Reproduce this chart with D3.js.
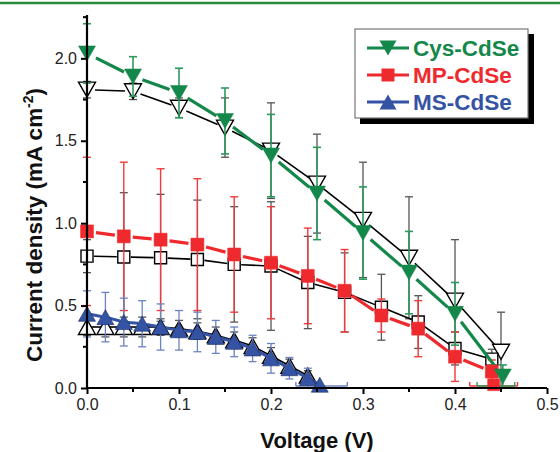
<!DOCTYPE html>
<html><head><meta charset="utf-8">
<script src="https://cdn.jsdelivr.net/npm/d3@7"></script>
<style>body{margin:0;background:#fff}svg{display:block}</style>
</head><body>
<svg id="c" width="560" height="452"></svg>
<script>
// ---- data ----
const cysV = [0, 0.05, 0.1, 0.15, 0.2, 0.25, 0.3, 0.35, 0.4, 0.452];
const cysJ = [2.03, 1.89, 1.79, 1.62, 1.41, 1.18, 0.94, 0.70, 0.45, 0.07];
const cysErr = [0.18, 0.12, 0.15, 0.2, 0.25, 0.28, 0.28, 0.25, 0.19, 0.07];

const cysRefV = [0, 0.05, 0.1, 0.15, 0.2, 0.25, 0.3, 0.35, 0.4, 0.45];
const cysRefJ = [1.81, 1.80, 1.70, 1.58, 1.44, 1.24, 1.02, 0.79, 0.53, 0.22];
const cysRefErr = [0.05, 0.05, 0.06, 0.18, 0.29, 0.30, 0.35, 0.37, 0.37, 0.24];

const mpV = [0, 0.04, 0.08, 0.12, 0.16, 0.2, 0.24, 0.28, 0.32, 0.36, 0.4, 0.44];
const mpJ = [0.95, 0.92, 0.90, 0.87, 0.81, 0.76, 0.68, 0.59, 0.44, 0.36, 0.19, 0.10];
const mpErr = [0.45, 0.45, 0.43, 0.40, 0.35, 0.34, 0.29, 0.25, 0.10, 0.17, 0.15, 0.07];

const mpRefV = [0, 0.04, 0.08, 0.12, 0.16, 0.2, 0.24, 0.28, 0.32, 0.36, 0.4, 0.44];
const mpRefJ = [0.80, 0.795, 0.79, 0.78, 0.75, 0.74, 0.64, 0.58, 0.49, 0.40, 0.24, 0.175];
const mpRefErr = [0.1, 0.39, 0.385, 0.36, 0.35, 0.39, 0.28, 0.24, 0.2, 0.16, 0.1, 0.06];

const msV = [0, 0.02, 0.04, 0.06, 0.08, 0.1, 0.12, 0.14, 0.16, 0.18, 0.2, 0.22, 0.24, 0.253];
const msJ = [0.45, 0.43, 0.40, 0.39, 0.37, 0.35, 0.34, 0.31, 0.28, 0.24, 0.18, 0.12, 0.06, 0.02];
const msErr = [0.14, 0.15, 0.145, 0.14, 0.14, 0.12, 0.12, 0.1, 0.09, 0.08, 0.09, 0.065, 0.06, 0];

const msRefV = [0, 0.02, 0.04, 0.06, 0.08, 0.1, 0.12, 0.14, 0.16, 0.18, 0.2, 0.22, 0.24];
const msRefJ = [0.37, 0.37, 0.37, 0.37, 0.37, 0.36, 0.345, 0.32, 0.29, 0.255, 0.195, 0.135, 0.075];
const msRefErr = [0.05, 0.06, 0.06, 0.06, 0.05, 0.05, 0.05, 0.05, 0.05, 0.05, 0.05, 0.04, 0.03];

// open-circuit voltage (J = 0) with horizontal error
const vocSeries = ["MS-CdSe", "MP-CdSe", "Cys-CdSe"];
const vocV = [0.255, 0.442, 0.4445];
const vocErr = [0.028, 0.026, 0.0205];

const xTicks = [0, 0.1, 0.2, 0.3, 0.4, 0.5];
const yTicks = [0, 0.5, 1.0, 1.5, 2.0];
const legendLabels = ["Cys-CdSe", "MP-CdSe", "MS-CdSe"];

// ---- drawing ----
const svg = d3.select("#c");
const x = d3.scaleLinear().domain([0, 0.5]).range([87, 547]);
const y = d3.scaleLinear().domain([0, 2.263]).range([388, 15]);

const C = {green: "#14874a", red: "#ee2a2e", blue: "#3453a4",
           gErr: "#2b9a5c", rErr: "#f23a3a", bErr: "#6b83c2", kErr: "#555"};

// top decorative rule
svg.append("line").attr("x1", 0).attr("x2", 560).attr("y1", 3).attr("y2", 3)
  .attr("stroke", "#2a8a3c").attr("stroke-width", 2.5);

function tri(w, h, down) {
  return down ? `M${-w/2},${-h/2}L${w/2},${-h/2}L0,${h/2}Z`
              : `M${-w/2},${h/2}L${w/2},${h/2}L0,${-h/2}Z`;
}
function sq(s) { return `M${-s/2},${-s/2}h${s}v${s}h${-s}Z`; }

const g = svg.append("g");

function errBars(V, J, E, color, sw) {
  const cap = 4;
  V.forEach((v, i) => {
    if (!E[i]) return;
    const px = x(v), y1 = y(J[i] + E[i]), y2 = y(Math.max(J[i] - E[i], 0));
    g.append("line").attr("x1", px).attr("x2", px).attr("y1", y1).attr("y2", y2)
      .attr("stroke", color).attr("stroke-width", sw);
    g.append("line").attr("x1", px - cap).attr("x2", px + cap).attr("y1", y1).attr("y2", y1)
      .attr("stroke", color).attr("stroke-width", sw);
    if (J[i] - E[i] > 0)
      g.append("line").attr("x1", px - cap).attr("x2", px + cap).attr("y1", y2).attr("y2", y2)
        .attr("stroke", color).attr("stroke-width", sw);
  });
}
function gapLine(V, J, color, sw, gap) {
  for (let i = 0; i < V.length - 1; i++) {
    const x1 = x(V[i]), y1 = y(J[i]), x2 = x(V[i+1]), y2 = y(J[i+1]);
    const dx = x2 - x1, dy = y2 - y1, L = Math.hypot(dx, dy);
    if (L <= 2 * gap) continue;
    const ux = dx / L, uy = dy / L;
    g.append("line").attr("x1", x1 + ux*gap).attr("y1", y1 + uy*gap)
      .attr("x2", x2 - ux*gap).attr("y2", y2 - uy*gap)
      .attr("stroke", color).attr("stroke-width", sw);
  }
}
function markers(V, J, path, fill, stroke, sw) {
  V.forEach((v, i) => {
    g.append("path").attr("d", path).attr("transform", `translate(${x(v)},${y(J[i])})`)
      .attr("fill", fill).attr("stroke", stroke).attr("stroke-width", sw);
  });
}

// reference (open, black) series
errBars(cysRefV, cysRefJ, cysRefErr, C.kErr, 1.3);
errBars(mpRefV, mpRefJ, mpRefErr, C.kErr, 1.3);
errBars(msRefV, msRefJ, msRefErr, C.kErr, 1.3);
gapLine(cysRefV, cysRefJ, "#000", 1.6, 8);
gapLine(mpRefV, mpRefJ, "#000", 1.6, 7);
gapLine(msRefV, msRefJ, "#000", 1.6, 3);
markers(cysRefV, cysRefJ, tri(17, 15, true), "#fff", "#000", 1.4);
markers(mpRefV, mpRefJ, sq(12), "#fff", "#000", 1.4);
markers(msRefV, msRefJ, tri(17, 15, false), "#fff", "#000", 1.4);

// coloured series
errBars(mpV, mpJ, mpErr, C.rErr, 1.4);
errBars(cysV, cysJ, cysErr, C.gErr, 1.6);
errBars(msV, msJ, msErr, C.bErr, 1.3);

// Voc horizontal error bars
const vocCol = [C.bErr, C.rErr, C.gErr];
vocV.forEach((v, i) => {
  const x1 = x(v - vocErr[i]), x2 = x(v + vocErr[i]), py = y(0) - 2;
  g.append("line").attr("x1", x1).attr("x2", x2).attr("y1", py).attr("y2", py)
    .attr("stroke", vocCol[i]).attr("stroke-width", 1.4);
  [x1, x2].forEach(px => g.append("line").attr("x1", px).attr("x2", px)
    .attr("y1", py - 4).attr("y2", py).attr("stroke", vocCol[i]).attr("stroke-width", 1.4));
});
markers([vocV[1]], [0.02], sq(12), C.red, C.red, 0.5);

gapLine(mpV, mpJ, C.red, 3.2, 9);
gapLine(cysV, cysJ, C.green, 3.2, 10);
gapLine(msV, msJ, C.blue, 3, 4);
markers(mpV, mpJ, sq(13), C.red, C.red, 0.5);
markers(cysV, cysJ, tri(17, 15, true), C.green, C.green, 0.5);
markers(msV, msJ, tri(17, 15, false), C.blue, "#1a2a60", 0.6);

// ---- axes ----
const font = "'Liberation Sans', Arial, Helvetica, sans-serif";
const xAxis = svg.append("g").attr("transform", `translate(0,${y(0)})`)
  .call(d3.axisBottom(x).tickValues(xTicks).tickFormat(d3.format(".1f")).tickSize(6).tickPadding(5));
const yAxis = svg.append("g").attr("transform", `translate(${x(0)},0)`)
  .call(d3.axisLeft(y).tickValues(yTicks).tickFormat(d3.format(".1f")).tickSize(6).tickPadding(4));
[xAxis, yAxis].forEach(a => {
  a.select(".domain").attr("stroke", "#000").attr("stroke-width", 2.2);
  a.selectAll(".tick line").attr("stroke", "#000").attr("stroke-width", 2);
  a.selectAll(".tick text").attr("font-family", font).attr("font-size", 16).attr("fill", "#222");
});
yAxis.select(".domain").attr("d", `M0,${y(0)}V${y.range()[1]}`);
xAxis.select(".domain").attr("d", `M${x(0)},0H${x(0.5)}`);
// minor ticks
svg.append("g").selectAll("line").data([0.05, 0.15, 0.25, 0.35, 0.45]).join("line")
  .attr("x1", d => x(d)).attr("x2", d => x(d)).attr("y1", y(0)).attr("y2", y(0) + 4)
  .attr("stroke", "#000").attr("stroke-width", 2);
svg.append("g").selectAll("line").data([0.25, 0.75, 1.25, 1.75, 2.25]).join("line")
  .attr("x1", x(0) - 4).attr("x2", x(0)).attr("y1", d => y(d)).attr("y2", d => y(d))
  .attr("stroke", "#000").attr("stroke-width", 2);

// axis titles
svg.append("text").attr("x", 317).attr("y", 448).attr("text-anchor", "middle")
  .attr("font-family", font).attr("font-weight", "bold").attr("font-size", 22).attr("fill", "#111")
  .text("Voltage (V)");
const yl = svg.append("text").attr("transform", "translate(42,225) rotate(-90)")
  .attr("text-anchor", "middle").attr("font-family", font).attr("font-weight", "bold")
  .attr("font-size", 22.5).attr("fill", "#111");
yl.append("tspan").text("Current density (mA cm");
yl.append("tspan").attr("dy", -9).attr("font-size", 14).text("-2");
yl.append("tspan").attr("dy", 9).text(")");

// ---- legend ----
const lg = svg.append("g");
lg.append("rect").attr("x", 360).attr("y", 34).attr("width", 174).attr("height", 90).attr("fill", "#000");
lg.append("rect").attr("x", 355).attr("y", 29).attr("width", 173).attr("height", 89)
  .attr("fill", "#fff").attr("stroke", "#777").attr("stroke-width", 1.2);
const legCols = [C.green, C.red, C.blue];
const legPaths = [tri(17, 15, true), sq(13), tri(17, 15, false)];
legendLabels.forEach((lab, i) => {
  const yy = 48 + i * 27;
  lg.append("line").attr("x1", 367).attr("x2", 409).attr("y1", yy).attr("y2", yy)
    .attr("stroke", legCols[i]).attr("stroke-width", 3);
  lg.append("path").attr("d", legPaths[i]).attr("transform", `translate(388,${yy})`).attr("fill", legCols[i]);
  lg.append("text").attr("x", 413).attr("y", yy + 8).attr("font-family", font)
    .attr("font-weight", "bold").attr("font-size", 22.5).attr("fill", legCols[i]).text(lab);
});
</script>
</body></html>
